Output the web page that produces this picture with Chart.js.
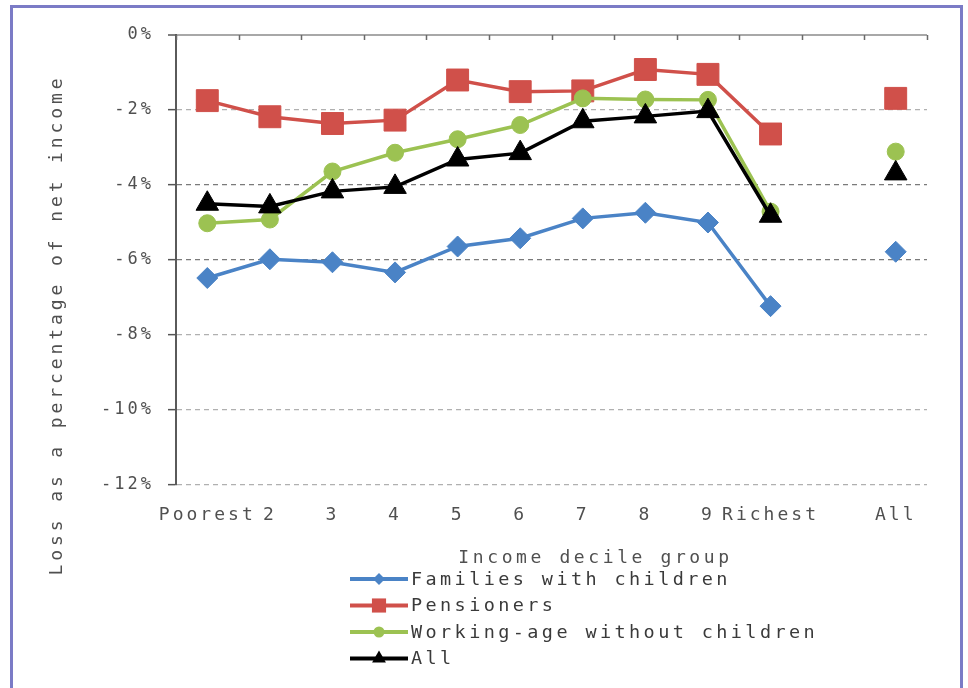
<!DOCTYPE html>
<html>
<head>
<meta charset="utf-8">
<script src="https://cdn.jsdelivr.net/npm/chart.js@4/dist/chart.umd.min.js"></script>
<style>
  html, body { margin: 0; padding: 0; background: #fff; }
  #wrap { position: relative; width: 968px; height: 688px; overflow: hidden; }
  #frame { position: absolute; left: 10px; top: 5px; width: 953px; height: 700px;
           border: 3px solid #7b7bc6; box-sizing: border-box; pointer-events: none; }
  canvas { position: absolute; left: 0; top: 0; }
</style>
</head>
<body>
<div id="wrap">
  <canvas id="chart" width="968" height="688"></canvas>
  <div id="frame"></div>
</div>
<script>
// Income decile groups (blank slot separates the deciles from the overall figure)
const categories = ['Poorest', '2', '3', '4', '5', '6', '7', '8', '9', 'Richest', '', 'All'];

// Loss as % of net income, per household type
const familiesWithChildren = [-6.48, -5.98, -6.06, -6.33, -5.64, -5.42, -4.89, -4.74, -5.00, -7.23, null, -5.78];
const pensioners           = [-1.75, -2.18, -2.36, -2.27, -1.20, -1.51, -1.49, -0.92, -1.05, -2.64, null, -1.69];
const workingAgeNoChildren = [-5.02, -4.92, -3.64, -3.14, -2.78, -2.40, -1.69, -1.72, -1.73, -4.71, null, -3.11];
const allHouseholds        = [-4.50, -4.57, -4.17, -4.05, -3.32, -3.15, -2.30, -2.17, -2.03, -4.82, null, -3.69];

// Value axis range and step
const yMin = -12;
const yMax = 0;
const yStep = 2;

const seriesNames = ['Families with children', 'Pensioners', 'Working-age without children', 'All'];

const FONT = '"DejaVu Sans Mono", "Liberation Mono", monospace';
const TEXT = '#505050';

function setSpacing(chart, px) {
  if ('letterSpacing' in chart.ctx) chart.ctx.letterSpacing = px + 'px';
}

function drawMarker(ctx, style, x, y, r, color) {
  ctx.save();
  ctx.fillStyle = color;
  ctx.beginPath();
  if (style === 'rectRot') {
    ctx.moveTo(x, y - r); ctx.lineTo(x + r, y); ctx.lineTo(x, y + r); ctx.lineTo(x - r, y);
  } else if (style === 'rect') {
    const s = r * Math.SQRT1_2;
    ctx.rect(x - s, y - s, 2 * s, 2 * s);
  } else if (style === 'triangle') {
    ctx.moveTo(x, y - r);
    ctx.lineTo(x + r * Math.sin(Math.PI / 3), y + r / 2);
    ctx.lineTo(x - r * Math.sin(Math.PI / 3), y + r / 2);
  } else {
    ctx.arc(x, y, r, 0, Math.PI * 2);
  }
  ctx.closePath();
  ctx.fill();
  ctx.restore();
}

// Top zero-line ticks, axis titles and the stacked legend
const decor = {
  id: 'decor',
  beforeLayout(chart) { setSpacing(chart, 3); },
  beforeDraw(chart) { setSpacing(chart, 3); },
  afterDraw(chart) {
    const ctx = chart.ctx;
    const area = chart.chartArea;
    const xs = chart.scales.x;
    const ys = chart.scales.y;
    const y0 = ys.getPixelForValue(0);

    // category boundary ticks hanging from the zero line
    ctx.save();
    ctx.strokeStyle = '#6a6a6a';
    ctx.lineWidth = 1.5;
    const n = categories.length;
    const half = (xs.getPixelForValue(1) - xs.getPixelForValue(0)) / 2;
    ctx.beginPath();
    for (let i = 0; i <= n; i++) {
      const px = Math.round(xs.getPixelForValue(Math.min(i, n - 1)) + (i === n ? half : -half)) + 0.5;
      ctx.moveTo(px, y0);
      ctx.lineTo(px, y0 + 5);
    }
    ctx.stroke();
    ctx.restore();

    // value axis title
    ctx.save();
    setSpacing(chart, 3.9);
    ctx.fillStyle = TEXT;
    ctx.font = '18px ' + FONT;
    ctx.textAlign = 'center';
    ctx.textBaseline = 'middle';
    ctx.translate(area.left - 119, (area.top + area.bottom) / 2 + 65);
    ctx.rotate(-Math.PI / 2);
    ctx.fillText('Loss as a percentage of net income', 0, 0);
    ctx.restore();

    // category axis title
    ctx.save();
    setSpacing(chart, 3.6);
    ctx.fillStyle = TEXT;
    ctx.font = '18px ' + FONT;
    ctx.textAlign = 'center';
    ctx.textBaseline = 'middle';
    ctx.fillText('Income decile group', (area.left + area.right) / 2 + 44, area.bottom + 73);
    ctx.restore();

    // legend, one entry per row
    const legendMarks = { rectRot: 6, rect: 10, circle: 5.5, triangle: 8 };
    const lx = 350, lineLen = 58, rowH = 26.5;
    const ly = area.bottom + 94;
    seriesNames.forEach((name, i) => {
      const ds = chart.data.datasets.find(d => d.label === name);
      const y = ly + i * rowH;
      ctx.save();
      ctx.strokeStyle = ds.borderColor;
      ctx.lineWidth = 4;
      ctx.beginPath();
      ctx.moveTo(lx, y);
      ctx.lineTo(lx + lineLen, y);
      ctx.stroke();
      drawMarker(ctx, ds.pointStyle, lx + lineLen / 2, y, legendMarks[ds.pointStyle], ds.pointBackgroundColor);
      setSpacing(chart, 3.4);
      ctx.fillStyle = '#3a3a3a';
      ctx.font = '18.5px ' + FONT;
      ctx.textAlign = 'left';
      ctx.textBaseline = 'middle';
      ctx.fillText(name, lx + lineLen + 3, y + 1);
      ctx.restore();
    });
  }
};

function series(label, data, color, pointStyle, radius, order) {
  return {
    label, data, order,
    borderColor: color,
    backgroundColor: color,
    pointBackgroundColor: color,
    pointBorderColor: color,
    pointStyle,
    pointRadius: radius,
    pointHoverRadius: radius,
    pointBorderWidth: 1,
    borderWidth: 3.5,
    spanGaps: false,
    tension: 0
  };
}

new Chart(document.getElementById('chart'), {
  type: 'line',
  data: {
    labels: categories,
    datasets: [
      series(seriesNames[0], familiesWithChildren, '#4a83c6', 'rectRot', 10.5, 3),
      series(seriesNames[1], pensioners,           '#d0504a', 'rect',    15.5, 2),
      series(seriesNames[2], workingAgeNoChildren, '#9cc252', 'circle',  8.5,  1),
      series(seriesNames[3], allHouseholds,        '#000000', 'triangle', 13,  0)
    ]
  },
  options: {
    responsive: false,
    devicePixelRatio: 1,
    animation: false,
    events: [],
    layout: { padding: { left: 0, top: 35, right: 41, bottom: 0 } },
    plugins: { legend: { display: false }, tooltip: { enabled: false } },
    scales: {
      x: {
        type: 'category',
        offset: true,
        grid: { display: false, offset: true },
        border: { display: false },
        ticks: {
          color: TEXT,
          font: { family: FONT, size: 18 },
          padding: 12,
          maxRotation: 0,
          autoSkip: false
        },
        afterFit(scale) { scale.height = 203; }
      },
      y: {
        min: yMin,
        max: yMax,
        ticks: {
          stepSize: yStep,
          color: TEXT,
          font: { family: FONT, size: 17 },
          padding: 14,
          callback: v => v + '%'
        },
        grid: {
          drawTicks: true,
          tickLength: 8,
          tickColor: '#555',
          tickWidth: 1.5,
          lineWidth: ctx => (ctx.tick && ctx.tick.value === 0 ? 2 : 1.3),
          color: ctx => {
            if (!ctx.tick) return '#999';
            const v = ctx.tick.value;
            if (v === 0) return '#a8a8a8';
            if (v === -4 || v === -6) return '#7a7a7a';
            return '#b0b0b0';
          }
        },
        border: {
          display: true,
          color: '#5a5a5a',
          width: 2,
          dash: ctx => (ctx.tick && ctx.tick.value !== 0 ? [5, 4] : [])
        },
        afterFit(scale) { scale.width = 176; }
      }
    }
  },
  plugins: [decor]
});
</script>
</body>
</html>
